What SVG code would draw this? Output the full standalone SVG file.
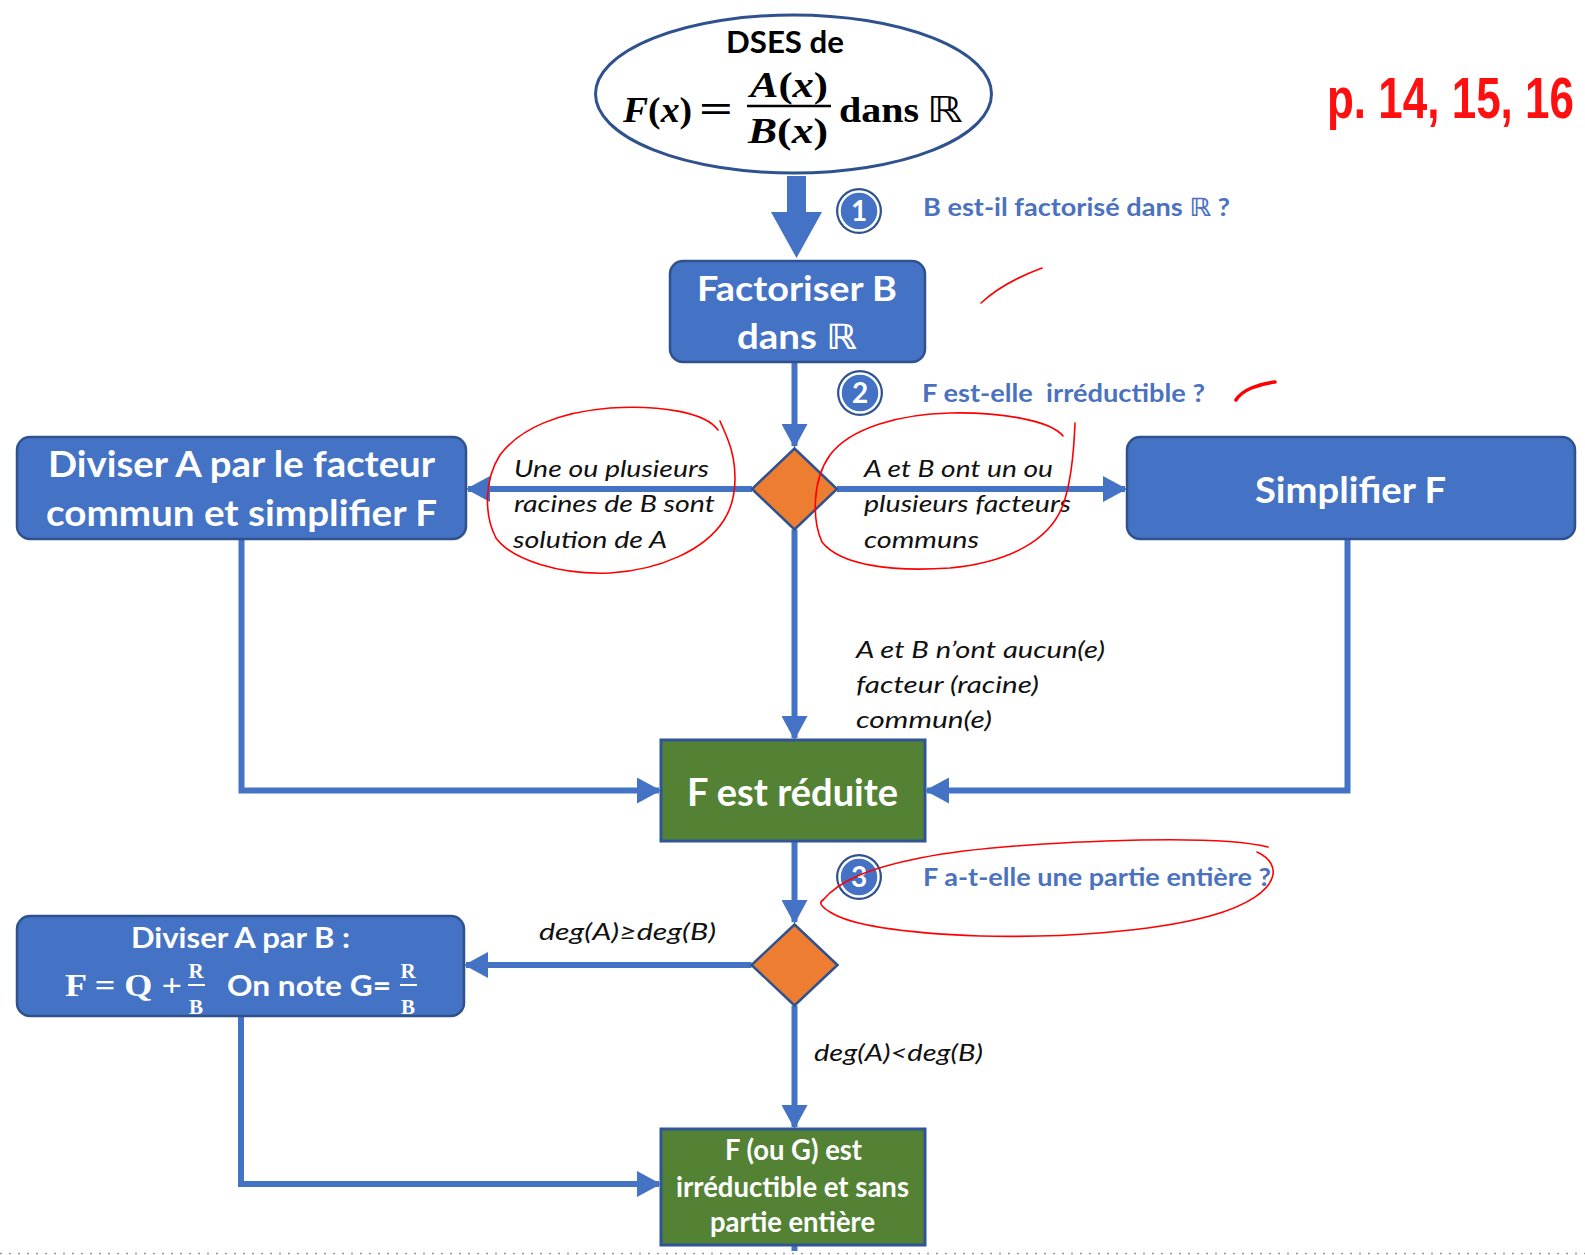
<svg xmlns="http://www.w3.org/2000/svg" width="1585" height="1255" viewBox="0 0 1585 1255">
<style>
.box{fill:#4472C4;stroke:#2F528F;stroke-width:2.5}
.gbox{fill:#548235;stroke:#2F5597;stroke-width:3}
.dia{fill:#ED7D31;stroke:#2F528F;stroke-width:2.5}
.bt{font-family:Lato,"DejaVu Sans",sans-serif;font-weight:bold;fill:#fff;text-anchor:middle}
.ql{font-family:Lato,"DejaVu Sans",sans-serif;font-weight:bold;fill:#4A72BE;font-size:25px}
.it{font-family:Lato,"DejaVu Sans",sans-serif;font-style:italic;fill:#111;font-size:24px}
.ms{font-family:"Liberation Serif",serif;font-weight:bold;fill:#000}
.con{fill:none;stroke:#4472C4;stroke-width:6}
.red{fill:none;stroke:#FF0000;stroke-width:1.6;stroke-linecap:round;stroke-linejoin:round}
.num{font-family:Lato,"DejaVu Sans",sans-serif;font-weight:bold;fill:#fff;font-size:28px;text-anchor:middle}
</style>
<defs>
<marker id="ah" markerUnits="userSpaceOnUse" markerWidth="24" markerHeight="26" refX="22" refY="13" orient="auto">
<path d="M0,0 L24,13 L0,26 z" fill="#4472C4"/>
</marker>
<g id="circ">
<circle r="23" fill="#2F528F"/>
<circle r="19.5" fill="#4472C4" stroke="#fff" stroke-width="2.5"/>
</g>
</defs>
<rect width="1585" height="1255" fill="#fff"/>

<g id="connectors">
<polygon points="787,176 806,176 806,212 822,212 796.5,258 771,212 787,212" fill="#4472C4"/>
<path class="con" d="M794.5,362 V446" marker-end="url(#ah)"/>
<path class="con" d="M752,489 H468" marker-end="url(#ah)"/>
<path class="con" d="M837,489 H1125" marker-end="url(#ah)"/>
<path class="con" d="M794.5,529.5 V738" marker-end="url(#ah)"/>
<path class="con" d="M241.5,539 V790.5 H659" marker-end="url(#ah)"/>
<path class="con" d="M1347.5,539 V790.5 H927" marker-end="url(#ah)"/>
<path class="con" d="M794.5,841 V922" marker-end="url(#ah)"/>
<path class="con" d="M751.5,965 H466" marker-end="url(#ah)"/>
<path class="con" d="M794.5,1005.5 V1127" marker-end="url(#ah)"/>
<path class="con" d="M241,1016 V1184 H659" marker-end="url(#ah)"/>
<path class="con" d="M794.5,1245 V1251"/>
</g>

<g id="start">
<ellipse cx="793.5" cy="94" rx="198" ry="79" fill="#fff" stroke="#2F528F" stroke-width="3"/>
<text x="785" y="53" font-family="Lato,sans-serif" font-weight="bold" font-size="30" text-anchor="middle" fill="#000" textLength="118" lengthAdjust="spacingAndGlyphs">DSES de</text>
<text class="ms" x="623" y="122" font-size="35" textLength="69" lengthAdjust="spacingAndGlyphs"><tspan font-style="italic">F</tspan>(<tspan font-style="italic">x</tspan>)</text>
<text class="ms" x="699" y="122" font-size="38" textLength="34" lengthAdjust="spacingAndGlyphs">=</text>
<text class="ms" x="789" y="97" font-size="35" text-anchor="middle" textLength="78" lengthAdjust="spacingAndGlyphs"><tspan font-style="italic">A</tspan>(<tspan font-style="italic">x</tspan>)</text>
<line x1="747" y1="106" x2="831" y2="106" stroke="#000" stroke-width="2.5"/>
<text class="ms" x="788" y="143" font-size="35" text-anchor="middle" textLength="80" lengthAdjust="spacingAndGlyphs"><tspan font-style="italic">B</tspan>(<tspan font-style="italic">x</tspan>)</text>
<text class="ms" x="839" y="122" font-size="35" textLength="80" lengthAdjust="spacingAndGlyphs">dans</text>
<text x="927" y="122" font-family="'DejaVu Sans',sans-serif" font-size="36" fill="#000" textLength="36" lengthAdjust="spacingAndGlyphs">ℝ</text>
</g>

<g id="q1">
<use href="#circ" x="859" y="211"/>
<text class="num" x="859" y="221">1</text>
<text class="ql" x="923" y="216" textLength="307" lengthAdjust="spacingAndGlyphs">B est-il factorisé dans ℝ ?</text>
</g>

<g id="factoriser">
<rect class="box" x="670" y="261" width="255" height="101" rx="13"/>
<text class="bt" x="797" y="301" font-size="35" textLength="200" lengthAdjust="spacingAndGlyphs">Factoriser B</text>
<text class="bt" x="797" y="349" font-size="35" textLength="120" lengthAdjust="spacingAndGlyphs">dans ℝ</text>
</g>

<g id="q2">
<use href="#circ" x="860" y="393"/>
<text class="num" x="860" y="403">2</text>
<text class="ql" x="922" y="402" textLength="283" lengthAdjust="spacingAndGlyphs" xml:space="preserve">F est-elle  irréductible ?</text>
</g>

<g id="decision1">
<polygon class="dia" points="794.5,448.5 837,489 794.5,529.5 752,489"/>
</g>

<g id="diviser-facteur">
<rect class="box" x="17" y="437" width="449" height="102" rx="13"/>
<text class="bt" x="241.5" y="477" font-size="37" textLength="387" lengthAdjust="spacingAndGlyphs">Diviser A par le facteur</text>
<text class="bt" x="241.5" y="526" font-size="37" textLength="391" lengthAdjust="spacingAndGlyphs">commun et simplifier F</text>
</g>

<g id="simplifier">
<rect class="box" x="1127" y="437" width="448" height="102" rx="13"/>
<text class="bt" x="1350.5" y="503" font-size="37" textLength="191" lengthAdjust="spacingAndGlyphs">Simplifier F</text>
</g>

<g id="labels">
<text class="it" x="514" y="477" textLength="195" lengthAdjust="spacingAndGlyphs">Une ou plusieurs</text>
<text class="it" x="514" y="512" textLength="201" lengthAdjust="spacingAndGlyphs">racines de B sont</text>
<text class="it" x="513" y="548" textLength="154" lengthAdjust="spacingAndGlyphs">solution de A</text>
<text class="it" x="864" y="477" textLength="189" lengthAdjust="spacingAndGlyphs">A et B ont un ou</text>
<text class="it" x="864" y="512" textLength="207" lengthAdjust="spacingAndGlyphs">plusieurs facteurs</text>
<text class="it" x="864" y="548" textLength="115" lengthAdjust="spacingAndGlyphs">communs</text>
<text class="it" x="856" y="658" textLength="249" lengthAdjust="spacingAndGlyphs">A et B n’ont aucun(e)</text>
<text class="it" x="856" y="693" textLength="183" lengthAdjust="spacingAndGlyphs">facteur (racine)</text>
<text class="it" x="856" y="728" textLength="136" lengthAdjust="spacingAndGlyphs">commun(e)</text>
<text class="it" x="539" y="940" textLength="177" lengthAdjust="spacingAndGlyphs">deg(A)≥deg(B)</text>
<text class="it" x="814" y="1061" textLength="169" lengthAdjust="spacingAndGlyphs">deg(A)&lt;deg(B)</text>
</g>

<g id="reduite">
<rect class="gbox" x="661" y="740" width="264" height="101"/>
<text class="bt" x="792.5" y="806" font-size="38" textLength="211" lengthAdjust="spacingAndGlyphs">F est réduite</text>
</g>

<g id="q3">
<use href="#circ" x="859" y="877"/>
<text class="num" x="859" y="887">3</text>
<text class="ql" x="923" y="886" textLength="348" lengthAdjust="spacingAndGlyphs">F a-t-elle une partie entière ?</text>
</g>

<g id="decision2">
<polygon class="dia" points="794.5,924.5 837.5,965 794.5,1005.5 751.5,965"/>
</g>

<g id="diviser-AB">
<rect class="box" x="17" y="916" width="447" height="100" rx="13"/>
<text class="bt" x="240.5" y="948" font-size="29" textLength="219" lengthAdjust="spacingAndGlyphs">Diviser A par B :</text>
<text class="ms" x="65" y="996" font-size="31" style="fill:#fff" textLength="117" lengthAdjust="spacingAndGlyphs">F = Q +</text>
<text class="ms" x="196" y="978" font-size="21" text-anchor="middle" style="fill:#fff">R</text>
<line x1="188" y1="985" x2="205" y2="985" stroke="#fff" stroke-width="2"/>
<text class="ms" x="196" y="1014" font-size="21" text-anchor="middle" style="fill:#fff">B</text>
<text x="227" y="996" font-family="Lato,sans-serif" font-weight="bold" font-size="29" fill="#fff" textLength="164" lengthAdjust="spacingAndGlyphs">On note G=</text>
<text class="ms" x="408" y="978" font-size="21" text-anchor="middle" style="fill:#fff">R</text>
<line x1="400" y1="985" x2="417" y2="985" stroke="#fff" stroke-width="2"/>
<text class="ms" x="408" y="1014" font-size="21" text-anchor="middle" style="fill:#fff">B</text>
</g>

<g id="final">
<rect class="gbox" x="661" y="1129" width="264" height="116"/>
<text class="bt" x="793.5" y="1160" font-size="28" textLength="137" lengthAdjust="spacingAndGlyphs">F (ou G) est</text>
<text class="bt" x="792.5" y="1197" font-size="28" textLength="233" lengthAdjust="spacingAndGlyphs">irréductible et sans</text>
<text class="bt" x="792.5" y="1232" font-size="28" textLength="165" lengthAdjust="spacingAndGlyphs">partie entière</text>
</g>

<line x1="0" y1="1253.5" x2="1585" y2="1253.5" stroke="#9a9a9a" stroke-width="1.5" stroke-dasharray="2,7"/>

<g id="annotations">
<path class="red" d="M718,430 C705,412 660,405 610,408 C560,412 520,428 500,455 C484,480 484,515 496,538 C512,560 560,575 610,573 C660,570 705,550 724,520 C740,495 736,460 728,440 C725,432 722,426 720,421"/>
<path class="red" d="M1063,436 C1050,420 1000,412 950,413 C900,414 850,428 830,455 C812,480 812,520 822,542 C840,565 890,572 950,568 C1010,562 1050,540 1063,505 C1072,480 1074,450 1075,423"/>
<path class="red" d="M823,900 C840,880 870,868 920,858 C980,846 1060,842 1140,840 C1190,839 1240,840 1268,847"/>
<path class="red" d="M1257,852 C1270,858 1276,868 1272,878 C1268,890 1250,905 1210,916 C1150,932 1060,938 980,936 C900,933 850,925 830,912 C820,906 819,902 823,900"/>
<path class="red" d="M981,303 C995,290 1015,278 1042,268"/>
<path class="red" style="stroke-width:3.5" d="M1236,400 C1242,390 1258,384 1275,382"/>
<text transform="translate(1327,118) scale(1,1.3)" x="0" y="0" font-family="'Liberation Sans',sans-serif" font-size="44" font-weight="bold" fill="#FF1010">p. 14, 15, 16</text>
</g>
</svg>
